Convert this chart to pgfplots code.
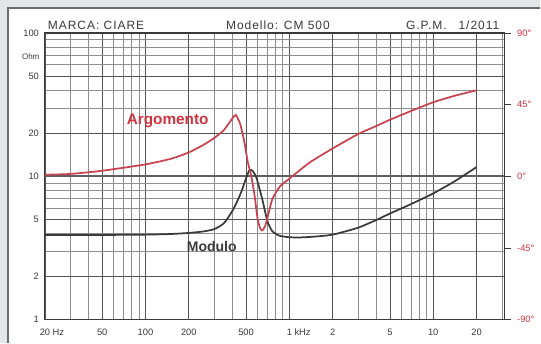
\documentclass[border=0pt]{standalone}
\usepackage{pgfplots}
\pgfplotsset{compat=1.18}
\usepackage{fontspec}
\setmainfont{Liberation Sans}
\newfontfamily\titlefont[LetterSpace=8]{Liberation Sans}
\definecolor{bgg}{HTML}{E3E5E7}
\definecolor{redc}{HTML}{C8434F}
\definecolor{redl}{HTML}{D0353F}
\definecolor{darkc}{HTML}{3A3A3A}
\definecolor{gridc}{HTML}{8E8E8E}
\begin{document}
\begin{tikzpicture}
\fill[bgg] (0pt,0pt) rectangle (405.75pt,257.25pt);
\fill[white] (6pt,0pt) rectangle (405.75pt,251.25pt);
\draw[gray!85!black, line width=0.8pt] (6pt,0pt) -- (6pt,251.25pt) -- (405.75pt,251.25pt);
\useasboundingbox (0pt,0pt) rectangle (405.75pt,257.25pt);
\begin{axis}[
  at={(33.75pt,17.25pt)}, anchor=south west,
  scale only axis, width=345pt, height=215.25pt,
  xmode=log, ymode=log,
  xmin=20, xmax=31300, ymin=1, ymax=100,
  xtick={20,50,100,200,500,1000,2000,5000,10000,20000},
  xticklabels={20\rlap{ Hz},50,100,200,500,1\rlap{ kHz},2,5,10,20},
  minor xtick={30,40,60,70,80,90,300,400,600,700,800,900,3000,4000,6000,7000,8000,9000,30000},
  ytick={1,2,5,10,20,50,100},
  yticklabels={1,2,5,10,20,50,100},
  minor ytick={3,4,6,7,8,9,30,40,60,70,80,90},
  xmajorgrids, ymajorgrids, xminorgrids, yminorgrids,
  major grid style={gray!65!black, line width=0.6pt},
  minor grid style={gridc, line width=0.5pt},
  extra x ticks={20,200,2000,20000},
  extra x tick labels={},
  extra x tick style={grid style={darkc, line width=1.3pt}},
  major tick length=0pt, minor tick length=0pt,
  axis line style={darkc, line width=1pt},
  tick label style={font=\fontsize{7}{8}\selectfont, text=darkc},
  xticklabel style={yshift=-3.5pt},
  yticklabel style={xshift=-1pt},
  clip=false,
]
\addplot[gray!75!black, line width=1.6pt, forget plot] coordinates {(20,10) (31300,10)};
\addplot[darkc, line width=1.3pt, smooth, tension=0.4] coordinates {
(20,3.9) (30,3.9) (50,3.9) (100,3.92) (150,3.96) (200,4.03) (250,4.12) (300,4.28)
(350,4.7) (400,5.7) (440,6.9) (470,8.1) (500,9.7) (530,11.1) (560,10.8) (590,9.8)
(620,8.2) (650,6.85) (680,5.6) (710,4.75) (760,4.15) (850,3.86) (1000,3.76)
(1200,3.75) (1500,3.8) (2000,3.92) (3000,4.38) (4000,4.95) (5000,5.5) (7000,6.4)
(10000,7.6) (14000,9.2) (20000,11.6)};
\node[font=\bfseries\fontsize{10.5}{12}\selectfont, text=darkc] at (rel axis cs:0.363,0.257) {Modulo};
\node[anchor=east, font=\fontsize{6}{7}\selectfont, text=darkc, inner sep=0pt] at ([xshift=-4pt]rel axis cs:0,0.916) {Ohm};
\node[anchor=base west, font=\titlefont\fontsize{9}{10}\selectfont, text=darkc, inner sep=0pt] at ([yshift=2.5pt]rel axis cs:0.006,1) {MARCA: CIARE};
\node[anchor=base, font=\titlefont\fontsize{9}{10}\selectfont, text=darkc, inner sep=0pt] at ([yshift=2.5pt]rel axis cs:0.507,1) {Modello: CM 500};
\node[anchor=base east, font=\titlefont\fontsize{9}{10}\selectfont, text=darkc, inner sep=0pt] at ([yshift=2.5pt]rel axis cs:0.989,1) {G.P.M.\quad 1/2011};
\end{axis}
\begin{axis}[
  at={(33.75pt,17.25pt)}, anchor=south west,
  scale only axis, width=345pt, height=215.25pt,
  xmode=log, xmin=20, xmax=31300, ymin=-90, ymax=90,
  axis y line*=right, axis x line=none,
  ytick={-90,-45,0,45,90},
  yticklabels={-90°,-45°,0°,45°,90°},
  tick align=outside, major tick length=5pt,
  ytick style={darkc, line width=0.6pt},
  axis line style={darkc, line width=1pt},
  yticklabel style={font=\fontsize{7}{8}\selectfont, text=redl, xshift=1pt},
  clip=false,
]
\addplot[redc, line width=1.3pt, smooth, tension=0.35] coordinates {
(20,1) (30,1.5) (50,3.5) (100,7.5) (150,11) (200,15) (250,19.5) (300,24) (350,29)
(385,34) (410,37.5) (425,38.5) (440,36) (455,33) (475,26) (490,20) (514,9) (544,0)
(574,-12.5) (602,-27) (630,-33) (650,-34) (680,-31) (705,-26) (760,-14.5) (857,-6.5)
(1000,-1.5) (1115,2) (1400,9) (2000,17.5) (3000,26.5) (4000,31.5) (5000,35.5)
(7000,41) (10000,46.5) (14000,50.5) (20000,54)};
\node[font=\bfseries\fontsize{11.5}{13}\selectfont, text=redl] at (rel axis cs:0.267,0.693) {Argomento};
\end{axis}
\end{tikzpicture}
\end{document}
